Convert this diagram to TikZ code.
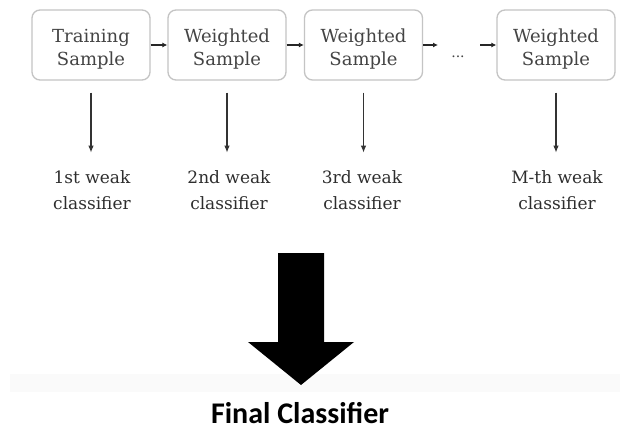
\documentclass[tikz,border=0pt]{standalone}
\usepackage{fontspec}
\setmainfont{DejaVu Serif}
\newfontfamily\calib{Carlito}
\usetikzlibrary{arrows.meta}
\definecolor{boxline}{HTML}{C4C4C4}
\definecolor{boxtext}{HTML}{444444}
\definecolor{labtext}{HTML}{2E2E2E}
\newcommand{\boxlines}[2]{\raisebox{-4pt}[\height][\depth]{\shortstack{#1\\[2pt]#2}}}
\begin{document}
\begin{tikzpicture}[x=1pt,y=-1pt,
  samplebox/.style={draw=boxline, line width=1.3pt, rounded corners=8pt,
    minimum width=118pt, minimum height=70pt, align=center, text=boxtext,
    font=\fontsize{18}{25}\selectfont, inner sep=0pt},
  weaklabel/.style={align=center, text=labtext,
    font=\fontsize{17}{26}\selectfont, inner sep=0pt},
  linkarrow/.style={draw=black!85, line width=1.4pt, -{Latex[length=5pt,width=5pt]}},
  downarrow/.style={draw=black!80, line width=1.1pt, -{Latex[length=7pt,width=5.5pt]}}]
\useasboundingbox (0,0) rectangle (620,430);
\fill[white] (0,0) rectangle (620,430);
\fill[black!2] (10,374) rectangle (620,392);

\node[samplebox] (b1) at (91,45) {\boxlines{Training}{Sample}};
\node[samplebox] (b2) at (227,45) {\boxlines{Weighted}{Sample}};
\node[samplebox] (b3) at (363.5,45) {\boxlines{Weighted}{Sample}};
\node[samplebox] (b4) at (556,45) {\boxlines{Weighted}{Sample}};

\node[text=boxtext, font=\fontsize{14}{14}\selectfont, inner sep=0pt] (dots) at (458,57) {...};
\coordinate (dl) at (438,45);
\coordinate (dr) at (480,45);

\draw[linkarrow] (b1.east) -- (b2.west);
\draw[linkarrow] (b2.east) -- (b3.west);
\draw[linkarrow] (b3.east) -- (dl);
\draw[linkarrow] (dr) -- (b4.west);

\node[weaklabel] (c1) at (92,190) {1st weak\\classifier};
\node[weaklabel] (c2) at (229,190) {2nd weak\\classifier};
\node[weaklabel] (c3) at (362,190) {3rd weak\\classifier};
\node[weaklabel] (c4) at (557,190) {M-th weak\\classifier};

\foreach \i in {1,2,3,4} {
  \draw[downarrow] ([yshift=-12pt]b\i.south) -- ([yshift=-72pt]b\i.south);
}

\fill[black] (278,253) -- (324,253) -- (324,342) -- (354,342) -- (301,385)
  -- (248,342) -- (278,342) -- cycle;

\node[font=\calib\bfseries\fontsize{30}{30}\selectfont, text=black, inner sep=0pt, anchor=base] (final) at (300,423) {Final Classifier};
\end{tikzpicture}
\end{document}
